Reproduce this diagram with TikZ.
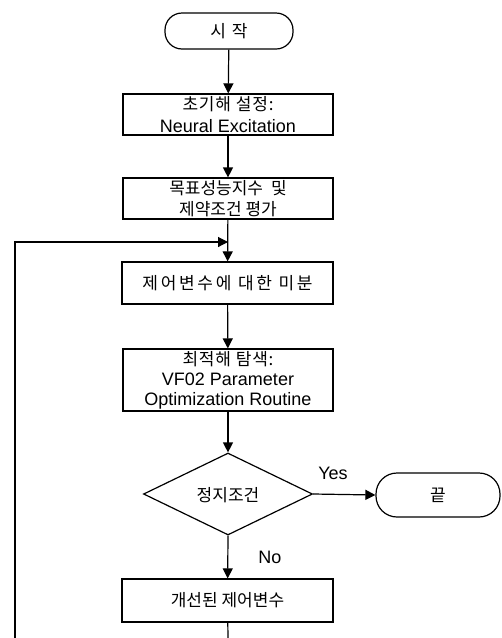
\documentclass[tikz,border=0pt]{standalone}
\usepackage{fontspec}
\setmainfont{Liberation Sans}
\newfontfamily\kr{Noto Sans CJK KR}
\newfontfamily\krs[LetterSpace=5]{Noto Sans CJK KR}
\newfontfamily\krw[LetterSpace=16]{Noto Sans CJK KR}
\usetikzlibrary{shapes.geometric,arrows.meta}
\begin{document}
\begin{tikzpicture}[x=1pt,y=-1pt,line width=1.2pt,
  box/.style={draw,rectangle,inner sep=0pt,align=center,font=\fontsize{18}{21}\selectfont},
  term/.style={draw,rectangle,inner sep=0pt,rounded corners=17pt,font=\fontsize{17}{20}\selectfont},
  dia/.style={draw,diamond,inner sep=0pt,minimum width=169pt,minimum height=82pt},
  lbl/.style={inner sep=0pt,font=\fontsize{18}{20}\selectfont},
  arr/.style={-{Triangle[length=10pt,width=10pt]}}]
\useasboundingbox (0,0) rectangle (502,638);
\fill[white] (0,0) rectangle (502,638);

\node[term,minimum width=128pt,minimum height=36pt] (start) at (229,31) {\krw 시\hspace{6pt}작};
\node[box,minimum width=210pt,minimum height=41pt] (b1) at (228,114.5)
  {{\krs\fontsize{17}{17}\selectfont 초기해 설정:}\\[1pt]Neural Excitation};
\node[box,minimum width=210pt,minimum height=41pt,font=\kr\fontsize{17}{21}\selectfont] (b2) at (228,198.5)
  {목표성능지수\hspace{8pt}및\\제약조건 평가};
\node[box,minimum width=211pt,minimum height=42pt,font=\krw\fontsize{17}{20}\selectfont] (b3) at (227.5,283)
  {제어변수에 대한 미분};
\node[box,minimum width=210pt,minimum height=62pt,font=\fontsize{18}{20}\selectfont] (b4) at (228,380)
  {{\krs\fontsize{17}{17}\selectfont 최적해 탐색:}\\VF02 Parameter\\Optimization Routine};
\node[dia] (d) at (228,494) {};
\node[inner sep=0pt,font=\kr\fontsize{17}{20}\selectfont] (dt) at (228,495) {정지조건};
\node[term,minimum width=124pt,minimum height=44pt,rounded corners=21pt,font=\kr\fontsize{17}{20}\selectfont] (end) at (438,495) {끝};
\node[box,minimum width=211pt,minimum height=43pt,font=\kr\fontsize{17}{20}\selectfont] (b5) at (227.5,600.5)
  {개선된 제어변수};
\node[lbl] (yes) at (333,473) {Yes};
\node[lbl] (no) at (270,557) {No};

\coordinate (m) at (228,242);
\coordinate (bl) at (15,638);
\coordinate (bc) at (228,638);

\draw[arr] (start) -- (b1);
\draw[arr] (b1) -- (b2);
\draw[arr] (b2) -- (b3);
\draw[arr] (b3) -- (b4);
\draw[arr] (b4) -- (d.north);
\draw[arr] (d.east) -- (end.west);
\draw[arr] (d.south) -- (b5);
\draw (b5) -- (bc);
\draw[arr] (bl) |- (m);
\end{tikzpicture}
\end{document}
